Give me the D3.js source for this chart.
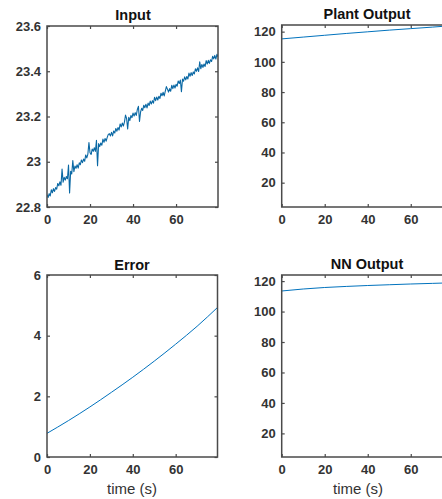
<!DOCTYPE html>
<html><head><meta charset="utf-8">
<script src="https://cdn.jsdelivr.net/npm/d3@7"></script>
<style>
html,body{margin:0;padding:0;background:#fff;overflow:hidden;}
svg{display:block;}
</style></head>
<body>
<svg id="chart" width="442" height="499"></svg>
<script>
// ---- data ----
const inputStep = 0.5; // seconds between input samples
const inputValues = [
22.854,22.842,22.859,22.849,22.876,22.863,22.881,22.869,22.886,22.879,
22.904,22.894,22.911,22.896,22.968,22.910,22.931,22.919,22.935,22.925,
22.985,22.862,22.958,22.946,23.005,22.956,22.981,22.971,22.987,22.972,
22.995,22.987,23.008,22.996,23.012,23.002,23.030,23.017,23.034,23.085,
23.040,23.032,23.056,23.046,23.062,23.046,23.095,22.982,23.080,23.067,
23.083,23.073,23.100,23.086,23.103,23.091,23.108,23.121,23.124,23.114,
23.130,23.114,23.136,23.127,23.147,23.135,23.151,23.140,23.167,23.154,
23.171,23.158,23.175,23.206,23.192,23.145,23.197,23.182,23.204,23.195,
23.215,23.202,23.217,23.205,23.231,23.245,23.178,23.220,23.236,23.227,
23.250,23.239,23.254,23.238,23.259,23.249,23.268,23.255,23.270,23.259,
23.285,23.270,23.286,23.273,23.289,23.280,23.303,23.292,23.307,23.291,
23.312,23.332,23.321,23.308,23.323,23.312,23.338,23.323,23.339,23.326,
23.342,23.334,23.357,23.346,23.361,23.310,23.365,23.356,23.375,23.362,
23.377,23.366,23.392,23.378,23.394,23.381,23.397,23.388,23.411,23.400,
23.415,23.399,23.442,23.411,23.430,23.417,23.432,23.421,23.447,23.432,
23.448,23.435,23.451,23.443,23.466,23.455,23.470,23.454,23.475,23.464
];
const smoothTimes = [0,10,20,30,40,50,60,70,79.5];
const plantValues = [115.2,116.4,117.6,118.8,119.9,121.0,122.0,123.0,124.0];
const errorValues = [0.78,1.20,1.65,2.13,2.63,3.16,3.72,4.31,4.93];
const nnValues    = [113.5,114.8,115.8,116.5,117.1,117.6,118.1,118.5,118.9];
const xTicks = [0,20,40,60];
const inputTicks = [22.8,23,23.2,23.4,23.6];
const outputTicks = [20,40,60,80,100,120];
const errorTicks = [0,2,4,6];
const titles = ["Input","Plant Output","Error","NN Output"];
const xLabel = "time (s)";

// ---- layout ----
const svg = d3.select("#chart");
const lineColor = "#0072BD";
const frameColor = "#4a4a4a";
const textColor = "#333333";

const inputSeries = inputValues.map((v,i)=>({t:i*inputStep,v}));
const mk = vals => smoothTimes.map((t,i)=>({t,v:vals[i]}));

const panels = [
  {title:titles[0], l:47, r:218, t:26, b:207, y:[22.8,23.6], ticks:inputTicks, fmt:d=>d3.format("")(d), data:inputSeries, curve:d3.curveLinear, w:1.1, color:"#0a68a4", tx:133, ty:20},
  {title:titles[1], l:281.7, r:452.7, t:25, b:207, y:[3.9,124.4], ticks:outputTicks, fmt:d=>d, data:mk(plantValues), curve:d3.curveMonotoneX, w:1, color:lineColor, tx:367, ty:19},
  {title:titles[2], l:47, r:217.5, t:275, b:457, y:[0,6], ticks:errorTicks, fmt:d=>d, data:mk(errorValues), curve:d3.curveMonotoneX, w:1, color:lineColor, tx:132, ty:270, xl:132},
  {title:titles[3], l:281.7, r:452.7, t:275, b:457, y:[4.5,124], ticks:outputTicks, fmt:d=>d, data:mk(nnValues), curve:d3.curveMonotoneX, w:1, color:lineColor, tx:367, ty:269, xl:358}
];

panels.forEach((p,idx)=>{
  const x = d3.scaleLinear().domain([0,79.5]).range([p.l,p.r]);
  const y = d3.scaleLinear().domain(p.y).range([p.b,p.t]);
  const g = svg.append("g");
  const cid = "clip"+idx;
  svg.append("clipPath").attr("id",cid).append("rect")
    .attr("x",p.l).attr("y",p.t).attr("width",p.r-p.l).attr("height",p.b-p.t);

  // data line
  g.append("path").datum(p.data)
    .attr("clip-path",`url(#${cid})`)
    .attr("fill","none").attr("stroke",p.color).attr("stroke-width",p.w)
    .attr("stroke-linejoin","round")
    .attr("d",d3.line().x(d=>x(d.t)).y(d=>y(d.v)).curve(p.curve));

  // axes (bottom + left with labels, top + right mirrored ticks)
  const tl = 3;
  const ax = g.append("g").attr("transform",`translate(0,${p.b})`)
    .call(d3.axisBottom(x).tickValues(xTicks).tickSizeInner(-tl).tickSizeOuter(0).tickPadding(8));
  const ay = g.append("g").attr("transform",`translate(${p.l},0)`)
    .call(d3.axisLeft(y).tickValues(p.ticks).tickFormat(p.fmt).tickSizeInner(-tl).tickSizeOuter(0).tickPadding(6));
  const axt = g.append("g").attr("transform",`translate(0,${p.t})`)
    .call(d3.axisTop(x).tickValues(xTicks).tickSizeInner(-tl).tickSizeOuter(0).tickFormat(""));
  const ayr = g.append("g").attr("transform",`translate(${p.r},0)`)
    .call(d3.axisRight(y).tickValues(p.ticks).tickSizeInner(-tl).tickSizeOuter(0).tickFormat(""));
  [ax,ay,axt,ayr].forEach(a=>{
    a.select(".domain").remove();
    a.selectAll("line").attr("stroke",frameColor).attr("stroke-width",1.2);
    a.selectAll("text").attr("fill",textColor)
      .style("font-family","'Liberation Sans', Arial, sans-serif")
      .style("font-size","13px").style("font-weight","bold");
  });
  // box
  g.append("rect").attr("x",p.l).attr("y",p.t).attr("width",p.r-p.l).attr("height",p.b-p.t)
    .attr("fill","none").attr("stroke",frameColor).attr("stroke-width",1.5);

  // title
  g.append("text").attr("x",p.tx).attr("y",p.ty).attr("text-anchor","middle")
    .style("font-family","'Liberation Sans', Arial, sans-serif")
    .style("font-size","14.5px").style("font-weight","bold").attr("fill","#111")
    .text(p.title);

  if (p.xl !== undefined) {
    g.append("text").attr("x",p.xl).attr("y",494).attr("text-anchor","middle")
      .style("font-family","'Liberation Sans', Arial, sans-serif")
      .style("font-size","15px").attr("fill",textColor)
      .text(xLabel);
  }
});
</script>
</body></html>
